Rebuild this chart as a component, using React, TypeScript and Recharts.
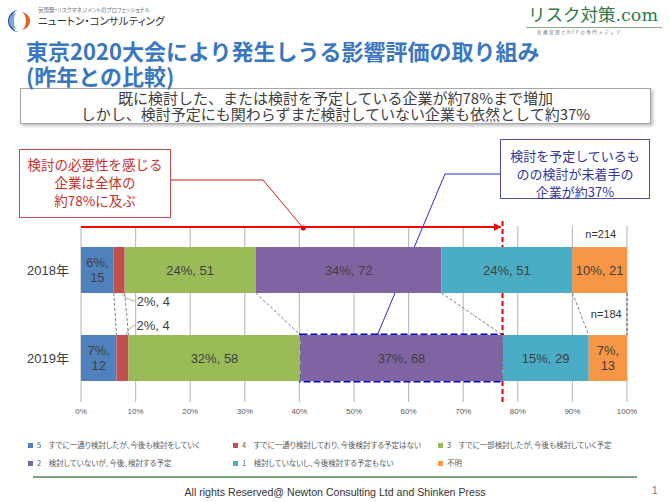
import React from 'react';
import * as R from 'recharts';

const { BarChart, Bar, XAxis, YAxis, CartesianGrid, Customized } = R as any;

// ---------------- data ----------------
const categories = ['2018年', '2019年'];
const seriesKeys = ['s5', 's4', 's3', 's2', 's1', 'unknown'];
const seriesNames = [
  '5　すでに一通り検討したが、今後も検討をしていく',
  '4　すでに一通り検討しており、今後検討する予定はない',
  '3　すでに一部検討したが、今後も検討していく予定',
  '2　検討していないが、今後、検討する予定',
  '1　検討していないし、今後検討する予定もない',
  '不明',
];
const share2018 = [6, 2, 24, 34, 24, 10];
const share2019 = [6.5, 2.2, 31.5, 37.0, 15.8, 7.0];
const pctLabels2018 = [6, 2, 24, 34, 24, 10];
const pctLabels2019 = [7, 2, 32, 37, 15, 7];
const counts2018 = [15, 4, 51, 72, 51, 21];
const counts2019 = [12, 4, 58, 68, 29, 13];
const sampleSizes = [214, 184];
const xTicks = [0, 10, 20, 30, 40, 50, 60, 70, 80, 90, 100];

const shares = [share2018, share2019];
const pctLabels = [pctLabels2018, pctLabels2019];
const counts = [counts2018, counts2019];

const data = categories.map((name, ci) => {
  const row: any = { name };
  seriesKeys.forEach((k, si) => {
    row[k] = shares[ci][si];
  });
  return row;
});

// ---------------- styles ----------------
const COLORS = ['#4F81BD', '#C0504D', '#9BBB59', '#8064A2', '#4BACC6', '#F79646'];
const W = 670;
const H = 502;
const MARGIN = { top: 226, right: 43, bottom: 80, left: 21 };
const YAXIS_W = 60;
const XAXIS_H = 20;
const BAR_SIZE = 46;
const JP = '"Noto Sans CJK JP", "Noto Sans", sans-serif';
const LAT = '"Liberation Sans", "Noto Sans CJK JP", sans-serif';
const LABEL_COLOR = '#404040';

const RAny = R as any;
const usePlotAreaSafe: () => any =
  typeof RAny.usePlotArea === 'function' ? RAny.usePlotArea : () => undefined;

function cumulative(arr: number[], upto: number) {
  let s = 0;
  for (let i = 0; i < upto; i++) s += arr[i];
  return s;
}

const makeShape = (si: number) => (p: any) => {
  const { x, y, width, height, index } = p;
  const fill = COLORS[si];
  const ci = index ?? 0;
  const pct = pctLabels[ci][si];
  const cnt = counts[ci][si];
  const cx = x + width / 2;
  const cy = y + height / 2;
  let label: any = null;
  if (si !== 1) {
    if (width < 46) {
      label = (
        <text x={cx} y={cy} textAnchor="middle" fontFamily={LAT} fontSize={13} fill={LABEL_COLOR}>
          <tspan x={cx} dy={-3}>{`${pct}%,`}</tspan>
          <tspan x={cx} dy={15}>{`${cnt}`}</tspan>
        </text>
      );
    } else {
      label = (
        <text x={cx} y={cy + 4.5} textAnchor="middle" fontFamily={LAT} fontSize={13} fill={LABEL_COLOR}>
          {`${pct}%, ${cnt}`}
        </text>
      );
    }
  }
  return (
    <g>
      <rect x={x} y={y} width={width} height={height} fill={fill} />
      {label}
    </g>
  );
};

function Overlay() {
  const pa = usePlotAreaSafe();
  const area =
    pa && typeof pa.x === 'number'
      ? pa
      : {
          x: MARGIN.left + YAXIS_W,
          y: MARGIN.top,
          width: W - MARGIN.left - YAXIS_W - MARGIN.right,
          height: H - MARGIN.top - MARGIN.bottom - XAXIS_H,
        };
  const sx = (v: number) => area.x + (v / 100) * area.width;
  const step = area.height / categories.length;
  const barTop = (ci: number) => area.y + step * ci + (step - BAR_SIZE) / 2;
  const barBot = (ci: number) => barTop(ci) + BAR_SIZE;

  // connectors between the two years
  const connectors = [] as any[];
  for (let si = 1; si <= seriesKeys.length; si++) {
    const a = sx(cumulative(share2018, si));
    const b = sx(cumulative(share2019, si));
    connectors.push(
      <line
        key={'c' + si}
        x1={a}
        y1={barBot(0)}
        x2={b}
        y2={barTop(1)}
        stroke={si === seriesKeys.length ? '#555' : '#7F7F7F'}
        strokeWidth={1}
        strokeDasharray="3 2"
      />
    );
  }

  const target = cumulative(share2019, 4); // through "検討する予定"
  const purpleStart = cumulative(share2019, 3);
  const redEnd2018 = sx(cumulative(share2018, 2));
  const redMid2018 = sx(cumulative(share2018, 1) + share2018[1] * 0.7);
  const redEnd2019 = sx(cumulative(share2019, 2));
  const redMid2019 = sx(cumulative(share2019, 1) + share2019[1] * 0.8);

  const redDotX = sx(40.7);
  const redDotY = area.y + 2;
  const blueDotX = sx(54.2);
  const blueDotY = barTop(1) + 1;

  return (
    <g>
      <defs>
        <marker id="arrowRed" markerWidth="8" markerHeight="8" refX="7" refY="4" orient="auto" markerUnits="userSpaceOnUse">
          <path d="M0,0 L8,4 L0,8 Z" fill="#FF0000" />
        </marker>
      </defs>
      {connectors}
      {/* small external labels for series 4 */}
      <path
        d={`M${redMid2018},${barBot(0)} Q${redMid2018 + 4},${barBot(0) + 6} ${redEnd2018 + 10},${barBot(0) + 8}`}
        stroke="#A6A6A6"
        fill="none"
        strokeWidth={1}
      />
      <text x={redEnd2018 + 12} y={barBot(0) + 12.5} fontFamily={LAT} fontSize={13} fill={LABEL_COLOR}>
        {`${pctLabels2018[1]}%, ${counts2018[1]}`}
      </text>
      <path
        d={`M${redMid2019},${barTop(1)} Q${redMid2019 + 3},${barTop(1) - 8} ${redEnd2019 + 7},${barTop(1) - 10}`}
        stroke="#A6A6A6"
        fill="none"
        strokeWidth={1}
      />
      <text x={redEnd2019 + 8} y={barTop(1) - 5} fontFamily={LAT} fontSize={13} fill={LABEL_COLOR}>
        {`${pctLabels2019[1]}%, ${counts2019[1]}`}
      </text>
      {/* n labels */}
      <text x={sx(95.2)} y={barTop(0) - 9} textAnchor="middle" fontFamily={LAT} fontSize={11} fill="#333">
        {`n=${sampleSizes[0]}`}
      </text>
      <text x={sx(96.2)} y={(barBot(0) + barTop(1)) / 2 + 4} textAnchor="middle" fontFamily={LAT} fontSize={11} fill="#333">
        {`n=${sampleSizes[1]}`}
      </text>
      {/* blue dashed outline around 2019 purple */}
      <rect
        x={sx(purpleStart)}
        y={barTop(1)}
        width={sx(target) - sx(purpleStart)}
        height={BAR_SIZE}
        fill="none"
        stroke="#0000DD"
        strokeWidth={3}
        strokeDasharray="7 3"
      />
      {/* red arrow */}
      <line x1={sx(0)} y1={area.y + 1} x2={sx(target) - 2} y2={area.y + 1} stroke="#FF0000" strokeWidth={2} markerEnd="url(#arrowRed)" />
      <line
        x1={sx(target)}
        y1={area.y - 5}
        x2={sx(target)}
        y2={area.y + area.height}
        stroke="#E00000"
        strokeWidth={2}
        strokeDasharray="5 3"
      />
      {/* red callout */}
      <polyline points={`170,180 263,180 ${redDotX},${redDotY}`} fill="none" stroke="#D02020" strokeWidth={1} />
      <circle cx={redDotX} cy={redDotY} r={2.5} fill="#E00000" />
      <rect x={19.5} y={149.5} width={151} height={68} fill="#fff" stroke="#C0504D" strokeWidth={1} />
      <g fontFamily={JP} fontSize={13.5} fill="#C8302C" textAnchor="middle">
        <text x={95} y={170}>検討の必要性を感じる</text>
        <text x={95} y={188}>企業は全体の</text>
        <text x={95} y={206}>約78%に及ぶ</text>
      </g>
      {/* blue callout */}
      <polyline points={`500,174 445,174 ${blueDotX},${blueDotY}`} fill="none" stroke="#2A2ACC" strokeWidth={1} />
      <circle cx={blueDotX} cy={blueDotY} r={2.5} fill="#1A1AB0" />
      <rect x={500.5} y={139.5} width={149} height={59} fill="#fff" stroke="#5050A0" strokeWidth={1} />
      <g fontFamily={JP} fontSize={13} fill="#34349C" textAnchor="middle">
        <text x={575} y={161}>検討を予定しているも</text>
        <text x={575} y={179}>のの検討が未着手の</text>
        <text x={575} y={197}>企業が約37%</text>
      </g>
    </g>
  );
}

function Logo() {
  return (
    <svg width={28} height={28} viewBox="0 0 28 28" style={{ position: 'absolute', left: 5, top: 7 }}>
      <path d="M14,3 A11,11 0 1,0 14,25 A8,11 0 1,1 14,3 Z" fill="#1E4FA0" />
      <path d="M16,5 A9,9 0 0,1 16,23 A5,9 0 0,0 16,5 Z" fill="#E85A24" />
      <path d="M12,6 A8,8 0 0,0 12,22 A3,8 0 0,1 12,6 Z" fill="#7FA8D8" />
    </svg>
  );
}

export default function App() {
  return (
    <div
      style={{
        position: 'absolute',
        left: 0,
        top: 0,
        width: W,
        height: H,
        background: '#fff',
        overflow: 'hidden',
        fontFamily: JP,
      }}
    >
      <div style={{ position: 'absolute', left: 0, top: 0 }}>
        <BarChart width={W} height={H} data={data} layout="vertical" margin={MARGIN} barSize={BAR_SIZE}>
          <CartesianGrid horizontal={false} vertical={true} stroke="#BFBFBF" strokeWidth={1.2} />
          <XAxis
            type="number"
            domain={[0, 100]}
            ticks={xTicks}
            tickFormatter={(v: number) => `${v}%`}
            axisLine={false}
            tickLine={false}
            tickSize={3}
            tickMargin={3}
            height={XAXIS_H}
            tick={{ fontSize: 8, fill: '#595959', fontFamily: LAT }}
            interval={0}
          />
          <YAxis
            type="category"
            dataKey="name"
            width={YAXIS_W}
            axisLine={false}
            tickLine={false}
            tickSize={6}
            tickMargin={6}
            tick={{ fontSize: 13, fill: LABEL_COLOR, fontFamily: LAT }}
          />
          {seriesKeys.map((k, si) => (
            <Bar
              key={k}
              dataKey={k}
              name={seriesNames[si]}
              stackId="a"
              fill={COLORS[si]}
              isAnimationActive={false}
              shape={makeShape(si)}
            />
          ))}
          <Customized component={<Overlay />} />
        </BarChart>
      </div>

      {/* header left */}
      <Logo />
      <div style={{ position: 'absolute', left: 38, top: 6, fontSize: 5.5, color: '#707070', whiteSpace: 'nowrap', fontFeatureSettings: '"palt"' }}>
        英国発・リスクマネジメントのプロフェッショナル
      </div>
      <div style={{ position: 'absolute', left: 38, top: 14, fontSize: 10.5, color: '#333', whiteSpace: 'nowrap', fontFeatureSettings: '"palt"', lineHeight: '14px' }}>
        ニュートン・コンサルティング
      </div>
      {/* header right */}
      <div
        style={{
          position: 'absolute',
          left: 528,
          top: 4,
          fontSize: 17.5,
          color: '#2F7A46',
          whiteSpace: 'nowrap',
          fontFamily: '"DejaVu Serif", "Liberation Serif", "Noto Sans CJK JP", serif',
          lineHeight: '22px',
        }}
      >
        リスク対策.com
      </div>
      <div style={{ position: 'absolute', left: 526, top: 27, width: 136, height: 1, background: '#8AAE8A' }} />
      <div style={{ position: 'absolute', left: 537, top: 28.5, fontSize: 4.5, color: '#777', whiteSpace: 'nowrap', letterSpacing: 1.5, lineHeight: '6px' }}>
        危機管理とBCPの専門メディア
      </div>
      {/* summary box */}
      <div
        style={{
          position: 'absolute',
          left: 20,
          top: 88,
          width: 631,
          height: 36,
          boxSizing: 'border-box',
          border: '1px solid #A6A6A6',
          boxShadow: '2px 2px 3px rgba(0,0,0,0.25)',
          background: '#fff',
          textAlign: 'center',
          fontSize: 15,
          lineHeight: '16px',
          color: '#404040',
          paddingTop: 1,
          whiteSpace: 'nowrap',
        }}
      >
        <div>既に検討した、または検討を予定している企業が約78%まで増加</div>
        <div>しかし、検討予定にも関わらずまだ検討していない企業も依然として約37%</div>
      </div>
      {/* title */}
      <div
        style={{
          position: 'absolute',
          left: 26,
          top: 38,
          fontSize: 22,
          fontWeight: 700,
          color: '#3A77C0',
          lineHeight: '25px',
          whiteSpace: 'nowrap',
        }}
      >
        <div>東京2020大会により発生しうる影響評価の取り組み</div>
        <div>(昨年との比較)</div>
      </div>
      {/* legend */}
      <div
        style={{
          position: 'absolute',
          left: 28,
          top: 439,
          width: 620,
          display: 'grid',
          gridTemplateColumns: '205px 205px 205px',
          rowGap: 6,
          fontSize: 7.5,
          color: '#595959',
          fontFeatureSettings: '"palt"',
          lineHeight: '12px',
        }}
      >
        {seriesNames.map((n, si) => (
          <div key={n} style={{ display: 'flex', alignItems: 'center', whiteSpace: 'nowrap' }}>
            <span style={{ display: 'inline-block', width: 5, height: 5, background: COLORS[si], marginRight: 4 }} />
            <span>{n}</span>
          </div>
        ))}
      </div>
      <div style={{ position: 'absolute', left: 33, top: 476, width: 604, height: 1.5, background: '#7FA37F' }} />
      <div
        style={{
          position: 'absolute',
          left: 0,
          top: 485,
          width: W,
          textAlign: 'center',
          fontSize: 10.6,
          fontFamily: LAT,
          color: '#333',
          lineHeight: '14px',
        }}
      >
        All rights Reserved@ Newton Consulting Ltd and Shinken Press
      </div>
      <div style={{ position: 'absolute', left: 652, top: 484, fontSize: 10, fontFamily: LAT, color: '#777', lineHeight: '14px' }}>1</div>
    </div>
  );
}
